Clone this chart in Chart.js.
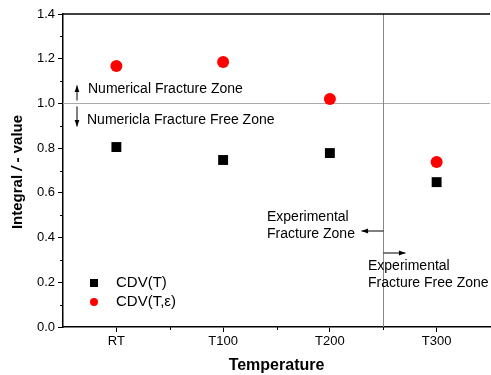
<!DOCTYPE html>
<html>
<head>
<meta charset="utf-8">
<script src="https://cdn.jsdelivr.net/npm/chart.js@4"></script>
<style>
  body { margin: 0; background: #fff; }
  #wrap { width: 491px; height: 375px; }
</style>
</head>
<body>
<div id="wrap"><canvas id="grafiek"></canvas></div>
<script>
// categorieen en waarden
var temperaturen = ['RT', 'T100', 'T200', 'T300'];
var cdvT = [0.805, 0.747, 0.778, 0.648];
var cdvTe = [1.167, 1.185, 1.020, 0.738];
var yTicks = [0, 0.2, 0.4, 0.6, 0.8, 1.0, 1.2, 1.4];
var grensWaarde = 1.0;     // numerieke grens
var grensCategorie = 2.5;  // experimentele grens tussen T200 en T300

var lettertype = '"Liberation Sans", Arial, sans-serif';

// pijl tekenen
function pijl(ctx, x1, y1, x2, y2) {
    var hoek = Math.atan2(y2 - y1, x2 - x1);
    ctx.beginPath();
    ctx.moveTo(x1, y1);
    ctx.lineTo(x2, y2);
    ctx.stroke();
    ctx.beginPath();
    ctx.moveTo(x2, y2);
    ctx.lineTo(x2 - 7 * Math.cos(hoek - 0.35), y2 - 7 * Math.sin(hoek - 0.35));
    ctx.lineTo(x2 - 7 * Math.cos(hoek + 0.35), y2 - 7 * Math.sin(hoek + 0.35));
    ctx.closePath();
    ctx.fill();
}

// extra lijnen, teksten en legenda
var extraPlugin = {
    id: 'extra',
    beforeDatasetsDraw: function (chart) {
        var ctx = chart.ctx, ca = chart.chartArea;
        var x = chart.scales.x, y = chart.scales.y;
        ctx.save();
        // grenslijnen
        ctx.lineWidth = 1;
        ctx.strokeStyle = '#aaaaaa';
        var yg = Math.round(y.getPixelForValue(grensWaarde)) + 0.5;
        ctx.beginPath(); ctx.moveTo(ca.left, yg); ctx.lineTo(ca.right, yg); ctx.stroke();
        ctx.strokeStyle = '#888888';
        var xg = Math.round(x.getPixelForValue(grensCategorie)) + 0.5;
        ctx.beginPath(); ctx.moveTo(xg, ca.top); ctx.lineTo(xg, ca.bottom); ctx.stroke();

        // bovenste rand
        ctx.strokeStyle = '#000';
        ctx.lineWidth = 1.5;
        ctx.beginPath(); ctx.moveTo(ca.left, ca.top); ctx.lineTo(ca.right, ca.top); ctx.stroke();

        // kleine streepjes
        ctx.lineWidth = 1;
        for (var v = 0.1; v < 1.4; v += 0.2) {
            var py = Math.round(y.getPixelForValue(v)) + 0.5;
            ctx.beginPath(); ctx.moveTo(ca.left - 3, py); ctx.lineTo(ca.left, py); ctx.stroke();
        }
        for (var i = 0.5; i < temperaturen.length - 1; i += 1) {
            var px = Math.round(x.getPixelForValue(i)) + 0.5;
            ctx.beginPath(); ctx.moveTo(px, ca.bottom); ctx.lineTo(px, ca.bottom + 3); ctx.stroke();
        }

        // teksten bij de zones
        ctx.fillStyle = '#000';
        ctx.strokeStyle = '#000';
        ctx.font = '14px ' + lettertype;
        ctx.textBaseline = 'middle';
        ctx.textAlign = 'left';
        ctx.fillText('Numerical Fracture Zone', 88, yg - 14);
        ctx.fillText('Numericla Fracture Free Zone', 87, yg + 17);
        pijl(ctx, 77, yg - 3, 77, yg - 18);
        pijl(ctx, 77, yg + 3, 77, yg + 23);

        ctx.fillText('Experimental', 267, 217);
        ctx.fillText('Fracture Zone', 267, 234);
        ctx.fillText('Experimental', 368, 266);
        ctx.fillText('Fracture Free Zone', 368, 283);
        pijl(ctx, xg, 231, xg - 22, 231);
        pijl(ctx, xg, 253, xg + 22, 253);

        // legenda
        ctx.fillRect(90, 279, 8, 8);
        ctx.fillStyle = '#ff0000';
        ctx.beginPath(); ctx.arc(94, 302, 4, 0, Math.PI * 2); ctx.fill();
        ctx.fillStyle = '#000';
        ctx.font = '15px ' + lettertype;
        ctx.fillText('CDV(T)', 116, 283);
        ctx.fillText('CDV(T,\u03b5)', 116, 302);

        // y-as titel met cursieve J
        ctx.translate(18, 172);
        ctx.rotate(-Math.PI / 2);
        var delen = [['bold 15px ', 'Integral '], ['italic bold 15px ', '/'], ['bold 15px ', ' - value']];
        var breedte = 0;
        delen.forEach(function (d) { ctx.font = d[0] + lettertype; breedte += ctx.measureText(d[1]).width; });
        var start = -breedte / 2;
        delen.forEach(function (d) {
            ctx.font = d[0] + lettertype;
            ctx.fillText(d[1], start, 0);
            start += ctx.measureText(d[1]).width;
        });
        ctx.restore();
    }
};

var ctx = document.getElementById('grafiek').getContext('2d');
var grafiek = new Chart(ctx, {
    type: 'line',
    data: {
        labels: temperaturen,
        datasets: [
            { label: 'CDV(T)', data: cdvT, showLine: false, pointStyle: 'rect', pointRadius: 7,
              backgroundColor: '#000', borderColor: '#000', borderWidth: 0 },
            { label: 'CDV(T,\u03b5)', data: cdvTe, showLine: false, pointStyle: 'circle', pointRadius: 6,
              backgroundColor: '#ff0000', borderColor: '#ff0000', borderWidth: 0 }
        ]
    },
    options: {
        responsive: true,
        maintainAspectRatio: false,
        animation: false,
        layout: { autoPadding: false, padding: { top: 14, right: 1, left: 0, bottom: 0 } },
        plugins: { legend: { display: false }, tooltip: { enabled: false } },
        scales: {
            x: {
                offset: true,
                grid: { display: true, drawOnChartArea: false, offset: false, tickLength: 5, color: '#000' },
                border: { color: '#000', width: 1.5 },
                ticks: { color: '#000', font: { family: lettertype, size: 13 }, padding: 2 },
                title: { display: true, text: 'Temperature', color: '#000', font: { family: lettertype, size: 16, weight: 'bold' }, padding: { top: 4, bottom: 0 } },
                afterFit: function (s) { s.height = 48; s.paddingLeft = 0; s.paddingRight = 0; }
            },
            y: {
                min: 0, max: 1.4,
                afterBuildTicks: function (s) { s.ticks = yTicks.map(function (v) { return { value: v }; }); },
                grid: { drawOnChartArea: false, tickLength: 5, color: '#000' },
                border: { color: '#000', width: 1.5 },
                ticks: { color: '#000', font: { family: lettertype, size: 13 }, padding: 3,
                         callback: function (v) { return v.toFixed(1); } },
                afterFit: function (s) { s.width = 63; s.paddingTop = 0; s.paddingBottom = 0; }
            }
        }
    },
    plugins: [extraPlugin]
});
</script>
</body>
</html>
